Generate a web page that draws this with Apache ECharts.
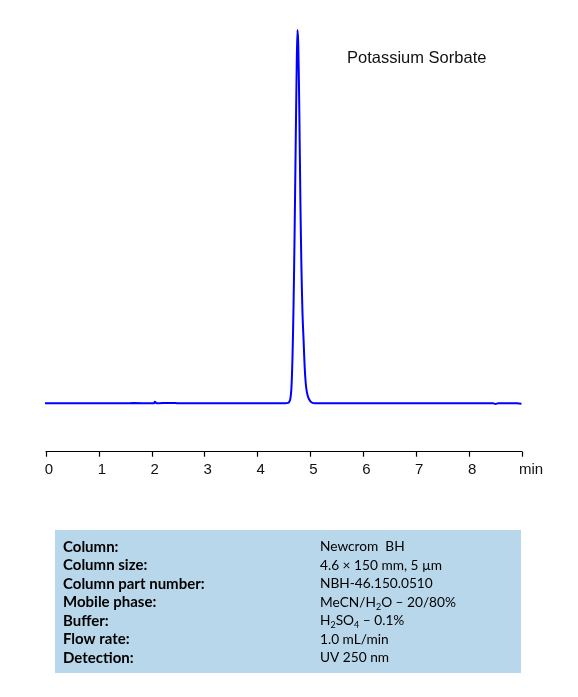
<!DOCTYPE html>
<html>
<head>
<meta charset="utf-8">
<script src="https://cdn.jsdelivr.net/npm/echarts@6/dist/echarts.min.js"></script>
<style>
html,body{margin:0;padding:0;background:#fff;}
#c{width:578px;height:697px;}
</style>
</head>
<body>
<div id="c"></div>
<script>
// Retention time (min)
var times = [
  -0.02, 0.5, 1.0, 1.5, 1.65, 2.0, 2.04, 2.06, 2.09, 2.2, 2.45, 2.5, 3.0, 3.5, 4.0, 4.4, 4.52,
  4.58, 4.60, 4.62, 4.64, 4.66, 4.68, 4.70, 4.72, 4.74, 4.755, 4.77, 4.79, 4.81, 4.83,
  4.85, 4.87, 4.89, 4.91, 4.93, 4.96, 5.00, 5.04, 5.08, 5.5, 6.0, 7.0, 8.0, 8.45, 8.5, 8.55, 8.9, 8.99
];
// Detector signal (relative units)
var signal = [
  0, 0, 0, 0, 0.5, 0, 0, 4, 0, 0.5, 0.5, 0, 0, 0, 0, 0, 0,
  1, 4, 12, 40, 120, 260, 450, 680, 900, 1000, 960, 780, 540, 360,
  240, 170, 100, 55, 32, 15, 5, 1, 0, 0, 0, 0, 0, 0, -2, 0, 0, -1
];
var xTicks = [0, 1, 2, 3, 4, 5, 6, 7, 8, 9];
var xTickLabels = ['0', '1', '2', '3', '4', '5', '6', '7', '8', 'min'];
var peakName = 'Potassium Sorbate';
var infoLabels = ['Column:', 'Column size:', 'Column part number:', 'Mobile phase:', 'Buffer:', 'Flow rate:', 'Detection:'];
var infoValues = ['Newcrom  BH', '4.6 × 150 mm, 5 µm', 'NBH-46.150.0510', 'MeCN/H{sub|2}O – 20/80%', 'H{sub|2}SO{sub|4} – 0.1%', '1.0 mL/min', 'UV 250 nm'];

var data = times.map(function (t, i) { return [t, signal[i]]; });

var chart = echarts.init(document.getElementById('c'));

var graphics = [{
  type: 'rect',
  shape: { x: 55, y: 530, width: 466, height: 143 },
  style: { fill: '#b9d7ea' },
  z: 0
}];
infoLabels.forEach(function (lab, i) {
  var y = 547 + i * 18.5;
  graphics.push({
    type: 'text', x: 63, y: y, z: 1,
    style: { text: lab, font: 'bold 15px Lato', fill: '#000', verticalAlign: 'middle' }
  });
  graphics.push({
    type: 'text', x: 320, y: y, z: 1,
    style: {
      text: infoValues[i], font: '13.7px Lato', fill: '#000', verticalAlign: 'middle',
      rich: { sub: { fontSize: 9, fontFamily: 'Lato', fill: '#000', padding: [9, 0, 0, 0] } }
    }
  });
});
graphics.push({
  type: 'text', x: 347, y: 58.5, z: 1,
  style: { text: peakName, font: '16.5px "Liberation Sans"', fill: '#111', verticalAlign: 'middle' }
});

chart.setOption({
  animation: false,
  grid: { left: 46, right: 56, top: 30, bottom: 245.3 },
  xAxis: {
    type: 'value', min: 0, max: 9, interval: 1,
    axisLine: { show: true, onZero: false, lineStyle: { color: '#000', width: 1.2 } },
    axisTick: { show: true, length: 5, lineStyle: { color: '#000', width: 1.2 } },
    splitLine: { show: false },
    axisLabel: {
      show: true, margin: 11, color: '#111', fontSize: 15, fontFamily: 'Liberation Sans',
      padding: [0, 0, 0, 6],
      formatter: function (v) {
        var idx = xTicks.indexOf(v);
        return idx === xTickLabels.length - 1 ? '{m|' + xTickLabels[idx] + '}' : xTickLabels[idx];
      },
      rich: { m: { fontSize: 15, fontFamily: 'Liberation Sans', color: '#111', padding: [0, 0, 0, 12] } }
    }
  },
  yAxis: {
    type: 'value', min: -129.7, max: 1000, show: false,
    splitLine: { show: false }
  },
  series: [{
    type: 'line', data: data, showSymbol: false, clip: false, smooth: 0.3,
    lineStyle: { color: '#0000ff', width: 2 }
  }],
  graphic: graphics
});
</script>
</body>
</html>
